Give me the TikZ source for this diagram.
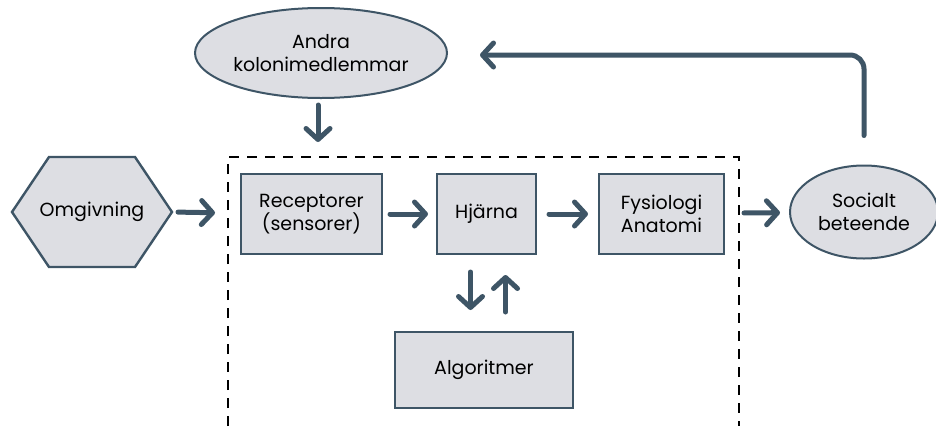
\documentclass[tikz,border=0pt]{standalone}
\usepackage{fontspec}
\setmainfont{Poppins}
\usetikzlibrary{shapes.geometric,arrows.meta}
\definecolor{slate}{HTML}{3E5566}
\definecolor{boxgrey}{HTML}{DDDEE3}
\begin{document}
\begin{tikzpicture}[x=1pt,y=-1pt,
  every node/.style={font=\fontsize{19}{23}\selectfont, align=center, inner sep=0pt, outer sep=0pt},
  block/.style={draw=slate, line width=2.4pt, fill=boxgrey, minimum height=80pt},
  oval/.style={ellipse, draw=slate, line width=2pt, fill=boxgrey},
  flow/.style={draw=slate, line width=5pt, line cap=round,
    -{Straight Barb[length=11pt, width=24pt, line cap=round, line join=round]}}]

\useasboundingbox (0,0) rectangle (936,426);

% Define coordinates
\coordinate (fl) at (228,213); % left side of the frame
\coordinate (ft) at (318,157); % top of the frame
\coordinate (fr) at (739,213); % right side of the frame
\coordinate (fb) at (480,55);  % end of the feedback line

% Draw the dashed frame (open at the bottom)
\draw[line width=1.3pt, dash pattern=on 10pt off 8pt] (228,426) |- (739,157) -- (739,426);

% Draw the hexagon
\draw[draw=slate, line width=2.4pt, fill=boxgrey]
  (12,212) -- (49,157) -- (135,157) -- (172,212) -- (135,267) -- (49,267) -- cycle;
\node[minimum width=160pt, minimum height=110pt] (omg) at (92,212) {Omgivning};

% Draw ovals
\node[oval, minimum width=252pt, minimum height=90pt] (andra) at (321,53) {Andra\\kolonimedlemmar};
\node[oval, minimum width=148pt, minimum height=93pt] (soc) at (864,212) {Socialt\\beteende};

% Draw blocks
\node[block, minimum width=141pt] (rec) at (311.5,214) {Receptorer\\(sensorer)};
\node[block, minimum width=99pt] (hja) at (486.5,214) {Hjärna};
\node[block, minimum width=125pt] (fys) at (661.5,214) {Fysiologi\\Anatomi};
\node[block, minimum width=178pt, minimum height=76pt] (alg) at (484,370) {Algoritmer};

% Draw arrows
\draw[flow, shorten <=6pt, shorten >=13pt] (omg.east) -- (fl);
\draw[flow, shorten <=7pt, shorten >=15pt] (andra.south -| ft) -- (ft);
\draw[flow, shorten <=8pt, shorten >=9pt] (rec) -- (hja);
\draw[flow, shorten <=13pt, shorten >=11pt] (hja) -- (fys);
\draw[flow, shorten <=5pt, shorten >=10pt] (fr) -- (soc);
\draw[flow, shorten <=18pt, shorten >=22pt] ([xshift=-16pt]hja.south) -- ([xshift=-16pt]hja.south |- alg.north);
\draw[flow, shorten <=20pt, shorten >=21pt] ([xshift=19pt]hja.south |- alg.north) -- ([xshift=19pt]hja.south);

% Feedback line
\draw[flow, shorten <=0pt, rounded corners=14pt] ([yshift=30pt]soc.north) |- (fb);

\end{tikzpicture}
\end{document}
